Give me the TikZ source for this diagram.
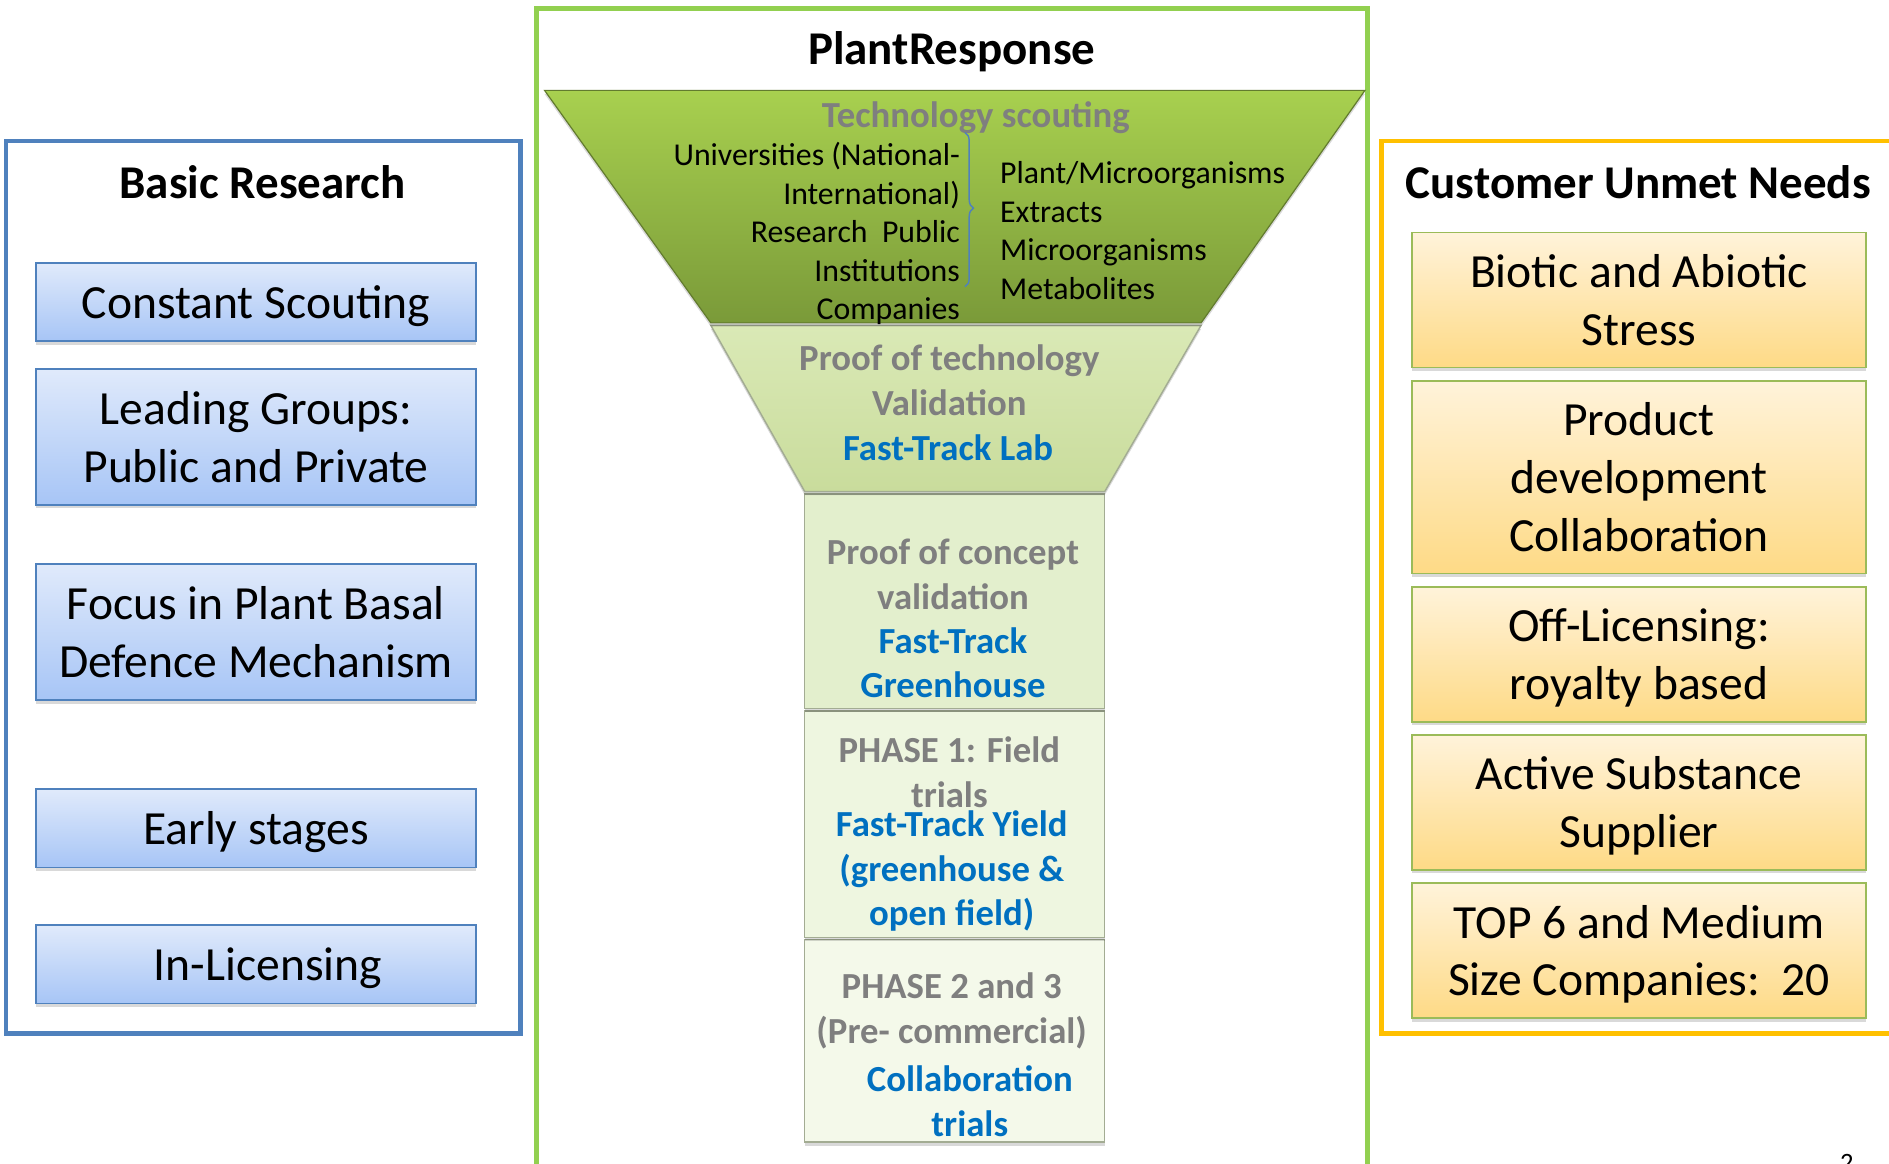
\documentclass[tikz,border=0pt]{standalone}
\usepackage{fontspec}
\setmainfont{Carlito}
\usetikzlibrary{shadows,decorations.pathreplacing}
\definecolor{bborder}{HTML}{4F81BD}
\definecolor{btop}{HTML}{E0EAFB}
\definecolor{bbot}{HTML}{A7C5F6}
\definecolor{oborder}{HTML}{9BBB59}
\definecolor{otop}{HTML}{FFF3DA}
\definecolor{obot}{HTML}{FEDA86}
\definecolor{gframe}{HTML}{92D050}
\definecolor{oframe}{HTML}{FFC000}
\definecolor{fonetop}{HTML}{A8D04F}
\definecolor{fonebot}{HTML}{7A9A39}
\definecolor{ftwotop}{HTML}{DAE9B6}
\definecolor{ftwobot}{HTML}{C9DC9C}
\definecolor{fthree}{HTML}{E3EFCD}
\definecolor{ffour}{HTML}{EEF6E0}
\definecolor{ffive}{HTML}{F4F9EA}
\definecolor{stageedge}{HTML}{A3AC93}
\definecolor{graytext}{HTML}{7F7F7F}
\definecolor{bluetext}{HTML}{0070C0}
\definecolor{bracecol}{HTML}{4F81BD}
\tikzset{
  frameline/.style={line width=4pt},
  titletext/.style={font=\bfseries\fontsize{39}{47}\selectfont, inner sep=0pt},
  bshadow/.style={drop shadow={shadow xshift=0pt, shadow yshift=-3pt, opacity=0.15, fill=black}},
  bluebox/.style={draw=bborder, line width=1.5pt, top color=btop, bottom color=bbot,
    minimum width=365pt, align=center, inner sep=0pt, text depth=0pt,
    font=\fontsize{39.5}{48}\selectfont, bshadow},
  orangebox/.style={draw=oborder, line width=1.5pt, top color=otop, bottom color=obot,
    minimum width=377pt, align=center, inner sep=0pt, text depth=0pt,
    font=\fontsize{39.5}{48}\selectfont, bshadow},
  stagebox/.style={draw=stageedge, line width=1.2pt, bshadow},
  graystage/.style={text=graytext, font=\bfseries\fontsize{30.5}{37.5}\selectfont, align=center, inner sep=0pt},
  bluestage/.style={text=bluetext, font=\bfseries\fontsize{30.5}{37}\selectfont, align=center, inner sep=0pt},
  smalltext/.style={font=\fontsize{26.4}{32}\selectfont, inner sep=0pt},
}
\begin{document}
\begin{tikzpicture}[x=1pt,y=-1pt]
\useasboundingbox (0,0) rectangle (1568,966);
\clip (0,0) rectangle (1568,966);
\fill[white] (0,0) rectangle (1568,966);

% frames
\draw[frameline, draw=bborder] (5,117) rectangle (432,858);
\draw[frameline, draw=gframe] (445,7) rectangle (1135,990);
\draw[frameline, draw=oframe] (1147,117) rectangle (1600,858);

% titles
\node[titletext] (br) at (218,151) {Basic Research};
\node[titletext] (pr) at (790,43) {PlantResponse};
\node[titletext] (cun) at (1360,151) {Customer Unmet Needs};

% left boxes
\node[bluebox, minimum height=65pt] (b1) at (212.5,250.5) {Constant Scouting};
\node[bluebox, minimum height=113pt] (b2) at (212.5,362.5) {Leading Groups:\\Public and Private};
\node[bluebox, minimum height=113pt] (b3) at (212.5,524.5) {Focus in Plant Basal\\Defence Mechanism};
\node[bluebox, minimum height=65pt] (b4) at (212.5,687.5) {Early stages};
\node[bluebox, minimum height=65pt] (b5) at (212.5,800.5) {\hspace*{20pt}In-Licensing};

% right boxes
\node[orangebox, minimum height=112pt] (o1) at (1360.5,249) {Biotic and Abiotic\\Stress};
\node[orangebox, minimum height=160pt] (o2) at (1360.5,396) {Product\\development\\Collaboration};
\node[orangebox, minimum height=112pt] (o3) at (1360.5,543) {Off-Licensing:\\royalty based};
\node[orangebox, minimum height=112pt] (o4) at (1360.5,666) {Active Substance\\Supplier};
\node[orangebox, minimum height=112pt] (o5) at (1360.5,789) {TOP 6 and Medium\\Size Companies:\ \ 20};

% funnel
\path[stagebox, top color=ffive, bottom color=ffive] (668,780) rectangle (917,948);
\path[stagebox, top color=ffour, bottom color=ffour] (668,590) rectangle (917,778);
\path[stagebox, top color=fthree, bottom color=fthree] (668,410) rectangle (917,588);
\path[stagebox, top color=ftwotop, bottom color=ftwobot] (590,270) -- (997,270) -- (917,408) -- (668,408) -- cycle;
\path[draw=fonebot!80!black, line width=1pt, top color=fonetop, bottom color=fonebot, bshadow] (452,75) -- (1133,75) -- (997,268) -- (590,268) -- cycle;

% funnel texts
\node[graystage] (ts) at (810,98) {Technology scouting};
\node[smalltext, anchor=east, align=right] (src) at (797,194)
  {Universities (National-\\International)\\Research\ \ Public\\Institutions\\Companies};
\node[smalltext, anchor=west, align=left] (prod) at (830,191.5)
  {Plant/Microorganisms\\Extracts\\Microorganisms\\Metabolites};
\coordinate (bt) at (801,110);
\coordinate (bb) at (801,238);
\draw[bracecol, line width=1.2pt, decorate, decoration={brace, amplitude=7pt, aspect=0.49}] (bt) -- (bb);

\node[graystage] (s2a) at (788,315.5) {Proof of technology\\Validation};
\node[bluestage] (s2b) at (787,372) {Fast-Track Lab};

\node[graystage] (s3a) at (791,477) {Proof of concept\\validation};
\node[bluestage] (s3b) at (791,550) {Fast-Track\\Greenhouse};

\node[graystage] (s4a) at (788,641) {PHASE 1: Field\\trials};
\node[bluestage] (s4b) at (790,723) {Fast-Track Yield\\(greenhouse \&\\open field)};

\node[graystage] (s5a) at (790,839) {PHASE 2 and 3\\(Pre- commercial)};
\node[bluestage] (s5b) at (805,914) {Collaboration\\trials};

% slide number
\node[font=\fontsize{22}{26}\selectfont, inner sep=0pt, anchor=north] (pg) at (1533,958) {2};
\end{tikzpicture}
\end{document}
